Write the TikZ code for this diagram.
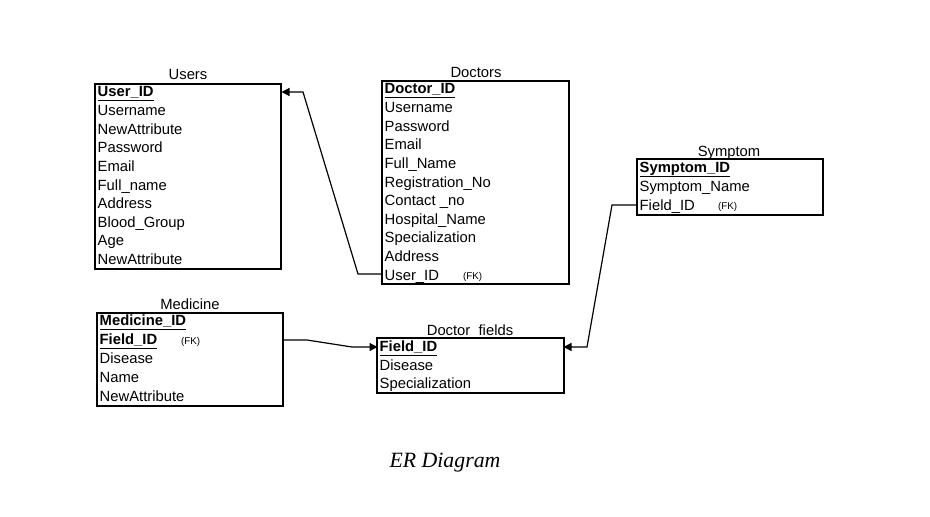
\documentclass[tikz,border=0pt]{standalone}
\usepackage{fontspec}
\setmainfont{Liberation Sans}
\newfontfamily\capfont{Liberation Serif}
\usetikzlibrary{arrows.meta}
\tikzset{
  x=1pt, y=-1pt,
  box/.style={line width=1.3pt},
  row/.style={anchor=base west, inner sep=0pt, font=\fontsize{14.8}{17}\selectfont},
  ttl/.style={anchor=base, inner sep=0pt, font=\fontsize{14.8}{17}\selectfont},
  fk/.style={anchor=base west, inner sep=0pt, font=\fontsize{9.8}{11}\selectfont},
  conn/.style={line width=1.2pt, -{Triangle[length=8pt,width=8pt]}},
  area/.style={draw=none, inner sep=0pt, anchor=north west},
}
\newsavebox\pkbox
\newcommand{\pk}[1]{\sbox\pkbox{\textbf{#1}}\usebox\pkbox\llap{\rule[-5.4pt]{\wd\pkbox}{1.3pt}}}
\begin{document}
\begin{tikzpicture}
\useasboundingbox (0,0) rectangle (930,517);

% Users
\draw[box] (95,84) rectangle (281,269);
\node[area, minimum width=186pt, minimum height=185pt] (users) at (95,84) {};
\node[ttl] (usersT) at (188,79) {Users};
\node[row] (u1) at (97.5,96) {\pk{User\_ID}};
\node[row] (u2) at (97.5,115.6) {Username};
\node[row] (u3) at (97.5,134.2) {NewAttribute};
\node[row] (u4) at (97.5,152.8) {Password};
\node[row] (u5) at (97.5,171.4) {Email};
\node[row] (u6) at (97.5,190) {Full\_name};
\node[row] (u7) at (97.5,208.6) {Address};
\node[row] (u8) at (97.5,227.2) {Blood\_Group};
\node[row] (u9) at (97.5,245.8) {Age};
\node[row] (u10) at (97.5,264.4) {NewAttribute};

% Doctors
\draw[box] (382,81) rectangle (569,284);
\node[area, minimum width=187pt, minimum height=203pt] (doctors) at (382,81) {};
\node[ttl] (doctorsT) at (476,77) {Doctors};
\node[row] (d1) at (384.5,93) {\pk{Doctor\_ID}};
\node[row] (d2) at (384.5,112.6) {Username};
\node[row] (d3) at (384.5,131.2) {Password};
\node[row] (d4) at (384.5,149.8) {Email};
\node[row] (d5) at (384.5,168.4) {Full\_Name};
\node[row] (d6) at (384.5,187) {Registration\_No};
\node[row] (d7) at (384.5,205.6) {Contact \_no};
\node[row] (d8) at (384.5,224.2) {Hospital\_Name};
\node[row] (d9) at (384.5,242.8) {Specialization};
\node[row] (d10) at (384.5,261.4) {Address};
\node[row] (d11) at (384.5,280) {User\_ID};
\node[fk] (d11fk) at (463,279) {(FK)};

% Symptom
\draw[box] (637,159) rectangle (823,215);
\node[area, minimum width=186pt, minimum height=56pt] (symptom) at (637,159) {};
\node[ttl] (symptomT) at (729,156) {Symptom};
\node[row] (s1) at (639.5,172) {\pk{Symptom\_ID}};
\node[row] (s2) at (639.5,191.5) {Symptom\_Name};
\node[row] (s3) at (639.5,210) {Field\_ID};
\node[fk] (s3fk) at (718,209.5) {(FK)};

% Medicine
\draw[box] (97,313) rectangle (283,406);
\node[area, minimum width=186pt, minimum height=93pt] (medicine) at (97,313) {};
\node[ttl] (medicineT) at (190,309) {Medicine};
\node[row] (m1) at (99.5,325) {\pk{Medicine\_ID}};
\node[row] (m2) at (99.5,344) {\pk{Field\_ID}};
\node[fk] (m2fk) at (181,344) {(FK)};
\node[row] (m3) at (99.5,363.5) {Disease};
\node[row] (m4) at (99.5,382.25) {Name};
\node[row] (m5) at (99.5,401) {NewAttribute};

% Doctor_fields
\draw[box] (377,338) rectangle (564,393);
\node[area, minimum width=187pt, minimum height=55pt] (fields) at (377,338) {};
\node[ttl] (fieldsT) at (470,335) {Doctor\_fields};
\node[row] (f1) at (379.5,351) {\pk{Field\_ID}};
\node[row] (f2) at (379.5,370) {Disease};
\node[row] (f3) at (379.5,388) {Specialization};

% connectors
\coordinate (c1a) at (382,274);
\coordinate (c1b) at (358,274);
\coordinate (c1c) at (303,92);
\coordinate (c1d) at (281.5,92);
\draw[conn] (c1a) -- (c1b) -- (c1c) -- (c1d);

\coordinate (c2a) at (283,340);
\coordinate (c2b) at (307,340);
\coordinate (c2c) at (352,347);
\coordinate (c2d) at (377.5,347);
\draw[conn] (c2a) -- (c2b) -- (c2c) -- (c2d);

\coordinate (c3a) at (637,205);
\coordinate (c3b) at (612,205);
\coordinate (c3c) at (587,347);
\coordinate (c3d) at (563.5,347);
\draw[conn] (c3a) -- (c3b) -- (c3c) -- (c3d);

% caption
\node[anchor=base, inner sep=0pt, font=\capfont\itshape\fontsize{21.8}{25}\selectfont] (cap) at (445,467) {ER Diagram};
\end{tikzpicture}
\end{document}
